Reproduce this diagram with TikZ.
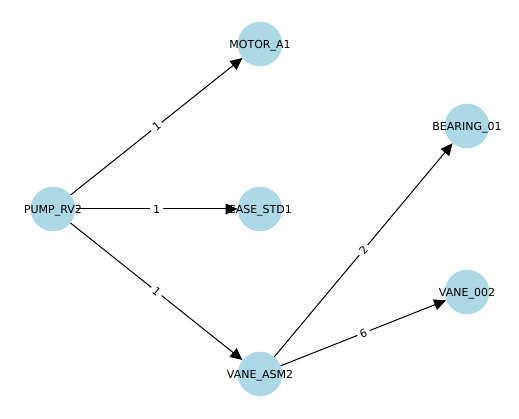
\documentclass[tikz,border=0pt]{standalone}
\usepackage{fontspec}
\setmainfont{DejaVu Sans}
\usetikzlibrary{arrows.meta}

\definecolor{nodeblue}{RGB}{173,216,230}

\begin{document}
\begin{tikzpicture}[x=1pt, y=-1pt, >={Triangle[length=12pt, width=11pt]},
    vertex/.style={circle, fill=nodeblue, minimum size=44.6pt, inner sep=0pt},
    vname/.style={font=\fontsize{11}{13}\selectfont, inner sep=0pt, yshift=-1.5pt},
    edge/.style={->, line width=1pt, black},
    elabel/.style={font=\fontsize{11}{13}\selectfont, fill=white, inner sep=3pt,
        rounded corners=2pt, sloped}]

    % Page size
    \useasboundingbox (0,0) rectangle (519,419);

    % Parameters
    \def\xA{53}
    \def\xB{260}
    \def\xC{467}

    % Vertices
    \node[vertex] (pump)    at (\xA, 209) {};
    \node[vertex] (motor)   at (\xB, 44)  {};
    \node[vertex] (casestd) at (\xB, 209) {};
    \node[vertex] (vaneasm) at (\xB, 374) {};
    \node[vertex] (bearing) at (\xC, 126) {};
    \node[vertex] (vane)    at (\xC, 292) {};

    % Vertex names
    \node[vname] at (pump)    {PUMP\_RV2};
    \node[vname] at (motor)   {MOTOR\_A1};
    \node[vname] at (casestd) {CASE\_STD1};
    \node[vname] at (vaneasm) {VANE\_ASM2};
    \node[vname] at (bearing) {BEARING\_01};
    \node[vname] at (vane)    {VANE\_002};

    % Edges with weights
    \draw[edge] (pump) -- node[elabel] {1} (motor);
    \draw[edge] (pump) -- node[elabel] {1} (casestd);
    \draw[edge] (pump) -- node[elabel] {1} (vaneasm);
    \draw[edge] (vaneasm) -- node[elabel] {2} (bearing);
    \draw[edge] (vaneasm) -- node[elabel] {6} (vane);

\end{tikzpicture}
\end{document}
